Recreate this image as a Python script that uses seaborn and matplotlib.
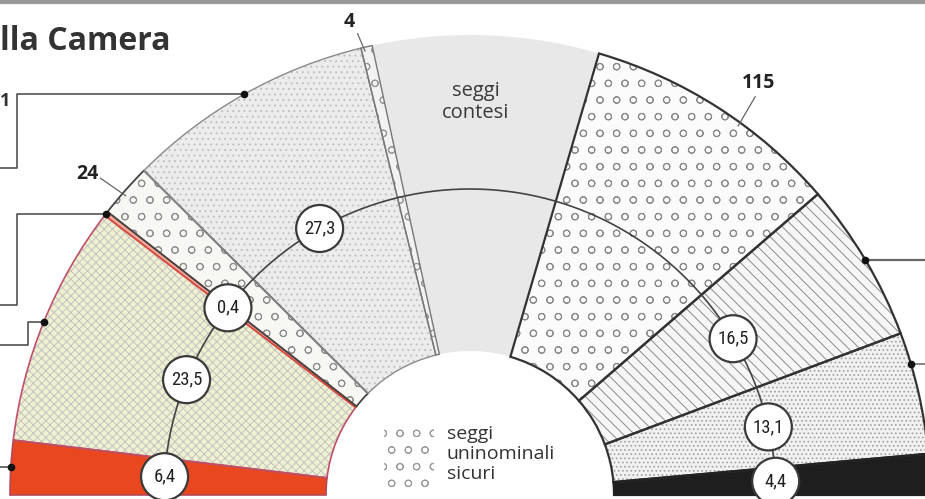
import numpy as np
import pandas as pd
import matplotlib
matplotlib.use("Agg")
import matplotlib.pyplot as plt
import matplotlib.font_manager as fm
from matplotlib.patches import Wedge, Circle, Rectangle
import seaborn as sns

# ---------------- data ----------------
settori = ["rosso", "giallo", "sottile", "uninominali_24", "grigio",
           "uninominali_4", "contesi", "uninominali_115", "tratteggio",
           "puntinato", "nero"]
seggi = [24, 107, 2, 24, 110, 5, 100, 115, 71, 54, 18]
percentuali = ["6,4", "23,5", "0,4", "", "27,3", "", "", "", "16,5", "13,1", "4,4"]
etichette_seggi = ["", "", "", "24", "", "4", "", "115", "", "", ""]
titolo = "lla Camera"
testo_contesi = "seggi\ncontesi"
testo_legenda = "seggi\nuninominali\nsicuri"

# ---------------- style / layout ----------------
sns.set_theme(style="white")
avail = {f.name for f in fm.fontManager.ttflist}
def pick(*names):
    for n in names:
        if n in avail:
            return n
    return "DejaVu Sans"
SANS = pick("Open Sans", "Lato", "DejaVu Sans")
NARROW = pick("Liberation Sans Narrow", "Roboto Condensed", "Roboto", "Open Sans")
plt.rcParams["font.family"] = [SANS, "DejaVu Sans"]
plt.rcParams["hatch.linewidth"] = 0.7

W, H = 925, 499
def py(y):  # pixel row -> data y
    return H - y

CX, CY = 470, py(495)
R_OUT, R_IN, R_LAB = 460, 144, 306

stili = {
    "rosso":           dict(fc="#e8471f", hatch=None,  hc=None,      ec="#b34a5a", lw=1.2),
    "giallo":          dict(fc="#f0f1d0", hatch="xxxx", hc="#c3c3c3", ec="#c0506a", lw=1.2),
    "sottile":         dict(fc="#f4a898", hatch=None,  hc=None,      ec="#d94a3a", lw=1.1),
    "uninominali_24":  dict(fc="#f7f7f4", hatch="o",   hc="#8f8f8f", ec="#444444", lw=1.3),
    "grigio":          dict(fc="#ececec", hatch="...", hc="#c0c0c0", ec="#8a8a8a", lw=1.0),
    "uninominali_4":   dict(fc="#f2f2f2", hatch="o",   hc="#999999", ec="#777777", lw=1.0),
    "contesi":         dict(fc="#e8e8e8", hatch=None,  hc=None,      ec="none",    lw=0),
    "uninominali_115": dict(fc="#fbfbfb", hatch="o",   hc="#8a8a8a", ec="#333333", lw=1.6),
    "tratteggio":      dict(fc="#f6f6f6", hatch="\\\\\\", hc="#8c8c8c", ec="#333333", lw=1.6),
    "puntinato":       dict(fc="#f1f1f1", hatch="....", hc="#a0a0a0", ec="#333333", lw=1.6),
    "nero":            dict(fc="#1e1e1e", hatch=None,  hc=None,      ec="#222222", lw=1.6),
}

fig = plt.figure(figsize=(W / 100, H / 100), dpi=100)
ax = fig.add_axes([0, 0, 1, 1])
ax.set_xlim(0, W)
ax.set_ylim(0, H)
ax.axis("off")

# angles
k = 180.0 / sum(seggi)
cum = np.concatenate([[0], np.cumsum(seggi)])
t_start = 180 - cum[:-1] * k
t_end = 180 - cum[1:] * k
t_mid = (t_start + t_end) / 2

def pol(r, deg):
    a = np.radians(deg)
    return CX + r * np.cos(a), CY + r * np.sin(a)

# wedges
for i, name in enumerate(settori):
    st = stili[name]
    base = Wedge((CX, CY), R_OUT, t_end[i], t_start[i], width=R_OUT - R_IN,
                 facecolor=st["fc"], edgecolor="none", lw=0, zorder=1)
    ax.add_patch(base)
    if st["hatch"]:
        hp = Wedge((CX, CY), R_OUT, t_end[i], t_start[i], width=R_OUT - R_IN,
                   facecolor="none", edgecolor=st["hc"], lw=0, hatch=st["hatch"], zorder=2)
        ax.add_patch(hp)
for i, name in enumerate(settori):
    st = stili[name]
    if st["ec"] != "none":
        ol = Wedge((CX, CY), R_OUT, t_end[i], t_start[i], width=R_OUT - R_IN,
                   facecolor="none", edgecolor=st["ec"], lw=st["lw"], zorder=3)
        ax.add_patch(ol)

# connecting arc through the percentage circles
labelled = [i for i, p in enumerate(percentuali) if p]
th = np.linspace(t_mid[labelled[-1]], t_mid[labelled[0]], 400)
ax_, ay_ = pol(R_LAB, th)
df_arc = pd.DataFrame({"x": ax_, "y": ay_})
sns.lineplot(data=df_arc, x="x", y="y", sort=False, estimator=None,
             color="#444444", lw=1.2, ax=ax, zorder=5)

for i in labelled:
    x, y = pol(R_LAB, t_mid[i])
    ax.add_patch(Circle((x, y), 23.5, facecolor="white", edgecolor="#3a3a3a", lw=1.6, zorder=6))
    ax.text(x, y, percentuali[i], ha="center", va="center", fontsize=13.5,
            family=[NARROW, "DejaVu Sans"], color="#222222", zorder=7)

# seat-count labels with short radial ticks
lab_layout = {"24": (140.0, 500), "4": (104.3, 488), "115": (55.0, 503)}
for i, s in enumerate(etichette_seggi):
    if not s:
        continue
    ang, rr = lab_layout[s]
    x, y = pol(rr, ang)
    ax.text(x, y, s, ha="center", va="center", fontsize=14, fontweight="bold",
            color="#222222", zorder=7)
    x1, y1 = pol(R_OUT - 4, ang - 1.0)
    x2, y2 = pol(rr - 13, ang - 0.6)
    ax.plot([x1, x2], [y1, y2], color="#666666", lw=0.9, zorder=4)

# leader lines to the (cut-off) left and right margins
def dot(deg):
    x, y = pol(R_OUT, deg)
    ax.plot([x], [y], "o", ms=4.5, color="#111111", zorder=8)
    return x, y

x, y = dot(t_mid[4])
ax.plot([x, 17, 17, 0], [y, y, py(168), py(168)], color="#444444", lw=1.1, zorder=4)
x, y = dot(t_mid[2])
ax.plot([x, 17, 17, 0], [y, y, py(305), py(305)], color="#444444", lw=1.1, zorder=4)
x, y = dot(t_mid[1])
ax.plot([x, 28, 28, 0], [y, y, py(345), py(345)], color="#444444", lw=1.1, zorder=4)
x, y = dot(t_mid[0])
ax.plot([x, 0], [y, y], color="#444444", lw=1.1, zorder=4)
x, y = dot(t_mid[8])
ax.plot([x, W], [y, y], color="#666666", lw=1.6, zorder=4)
x, y = dot(16.5)
ax.plot([x, W], [y, y], color="#666666", lw=1.1, zorder=4)

# texts
ax.plot([0, W], [py(2), py(2)], color="#9a9a9a", lw=3.0, zorder=1)
ax.text(0, py(50), titolo, ha="left", va="baseline", fontsize=23,
        fontweight="bold", color="#333333")
ax.text(0, py(106), "1", ha="left", va="baseline", fontsize=13,
        fontweight="bold", color="#333333")
ax.text(476, py(102), testo_contesi, ha="center", va="center", fontsize=14.5,
        color="#3a3a3a", linespacing=1.15, zorder=7)
ax.text(447, py(454), testo_legenda, ha="left", va="center", fontsize=14,
        color="#333333", linespacing=1.15, zorder=7)
ax.add_patch(Rectangle((384, py(488)), 50, 62, facecolor="none", edgecolor="#9a9a9a",
                       lw=0, hatch="o", zorder=2))

fig.savefig("out.png", dpi=100)
